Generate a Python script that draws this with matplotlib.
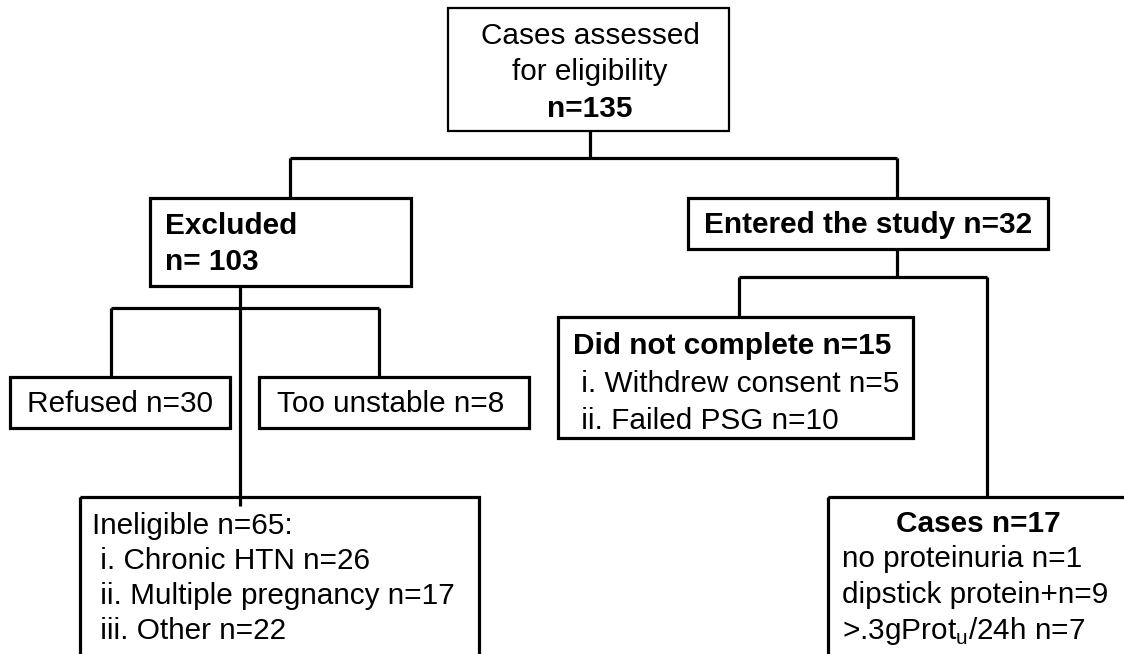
import matplotlib
matplotlib.use("Agg")
import matplotlib.pyplot as plt
from matplotlib.patches import Rectangle

plt.rcParams['font.family'] = ['Liberation Sans', 'DejaVu Sans']

# ---- contenido del diagrama (textos y conteos) ----
top_lines = ["Cases assessed", "for eligibility", "n=135"]
excluded_lines = ["Excluded", "n= 103"]
entered_text = "Entered the study n=32"
refused_text = "Refused n=30"
unstable_text = "Too unstable n=8"
ineligible_lines = ["Ineligible n=65:", " i. Chronic HTN n=26",
                    " ii. Multiple pregnancy n=17", " iii. Other n=22"]
incomplete_lines = ["Did not complete n=15", " i. Withdrew consent n=5",
                    " ii. Failed PSG n=10"]
cases_lines = ["Cases n=17", "no proteinuria n=1", "dipstick protein+n=9",
               r">.3gProt$_\mathregular{u}$/24h n=7"]

W, H = 1124, 654
fig = plt.figure(figsize=(W / 100, H / 100), dpi=100)
ax = fig.add_axes([0, 0, 1, 1])
ax.set_xlim(0, W)
ax.set_ylim(H, 0)
ax.axis('off')

FS = 21.4
LW = 2.3

def box(x0, y0, x1, y1, lw=LW):
    ax.add_patch(Rectangle((x0, y0), x1 - x0, y1 - y0, fill=False,
                           edgecolor='black', lw=lw, joinstyle='miter', zorder=2))

def line(xs, ys):
    ax.plot(xs, ys, color='black', lw=LW, solid_capstyle='butt', zorder=1)

# caja superior
box(448, 8, 729, 131, lw=1.6)
for i, s in enumerate(top_lines):
    ax.text(590, 36 + i * 36.5, s, ha='center', va='center', fontsize=FS,
            fontweight='bold' if i == 2 else 'normal')
line([590, 590], [131, 158])
line([290, 897], [158, 158])
line([290, 290], [158, 198])
line([897, 897], [158, 198])

# Excluded
box(150, 198, 411, 286)
for i, s in enumerate(excluded_lines):
    ax.text(165, 226 + i * 36, s, ha='left', va='center', fontsize=FS, fontweight='bold')
line([240, 240], [286, 506])
line([111, 379], [308, 308])
line([111, 111], [308, 377])
line([379, 379], [308, 377])

box(10, 377, 230, 428)
ax.text(27, 404, refused_text, ha='left', va='center', fontsize=FS)
box(259, 377, 529, 428)
ax.text(277, 404, unstable_text, ha='left', va='center', fontsize=FS)

box(80, 497, 479, 670)
for i, s in enumerate(ineligible_lines):
    ax.text(92, 526 + i * 35, s, ha='left', va='center', fontsize=FS)

# Entered
box(688, 198, 1048, 249)
ax.text(868, 225, entered_text, ha='center', va='center', fontsize=FS, fontweight='bold')
line([897, 897], [249, 277])
line([739, 987], [277, 277])
line([739, 739], [277, 317])
line([987, 987], [277, 497])

box(558, 317, 913, 438)
for i, s in enumerate(incomplete_lines):
    ax.text(573, 346 + i * 37.5, s, ha='left', va='center', fontsize=FS,
            fontweight='bold' if i == 0 else 'normal')

box(828, 497, 1140, 670)
ax.text(978, 524, cases_lines[0], ha='center', va='center', fontsize=FS, fontweight='bold')
for i, s in enumerate(cases_lines[1:]):
    ax.text(842, 559 + i * 36, s, ha='left', va='center', fontsize=FS)

fig.savefig("out.png", dpi=100, facecolor='white')
